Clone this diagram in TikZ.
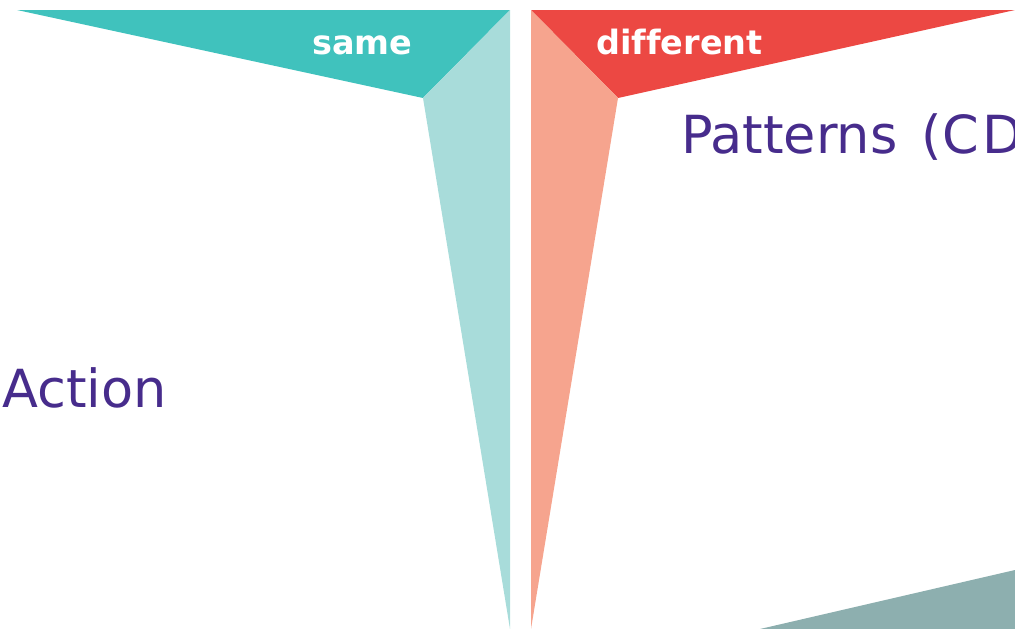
\documentclass[tikz,border=0pt]{standalone}
\usepackage{fontspec}
\newfontfamily\labelfont[Ligatures=NoCommon]{DejaVu Sans}
\definecolor{tealdark}{HTML}{40C2BD}
\definecolor{teallight}{HTML}{A8DCDA}
\definecolor{reddark}{HTML}{EC4843}
\definecolor{redlight}{HTML}{F6A48E}
\definecolor{greyteal}{HTML}{8DAFAF}
\definecolor{purpletext}{HTML}{472C8C}
\begin{document}
\begin{tikzpicture}[x=1pt,y=-1pt,
    tag/.style={text=white,inner sep=0pt,anchor=base west,font=\labelfont\bfseries\fontsize{33.5}{33.5}\selectfont},
    word/.style={text=purpletext,inner sep=0pt,anchor=base west,font=\labelfont\fontsize{52.5}{52.5}\selectfont}]
    \useasboundingbox (0,0) rectangle (1015,629);

    \fill[tealdark] (17,10) -- (510,10) -- (423,98) -- cycle;
    \fill[teallight] (423,98) -- (510,10) -- (510,629) -- cycle;
    \fill[reddark] (531,10) -- (1015,10) -- (618,98) -- cycle;
    \fill[redlight] (531,10) -- (618,98) -- (531,629) -- cycle;
    \fill[greyteal] (760,629) -- (1015,570) -- (1015,629) -- cycle;

    \node[tag] (same) at (312,54) {same};
    \node[tag] (diff) at (596,54) {different};
    \node[word] (patterns) at (681,153) {Patterns\hspace{0.45em}(\kern1pt C\kern3pt D};
    \node[word] (action) at (2,407) {Action};
\end{tikzpicture}
\end{document}
